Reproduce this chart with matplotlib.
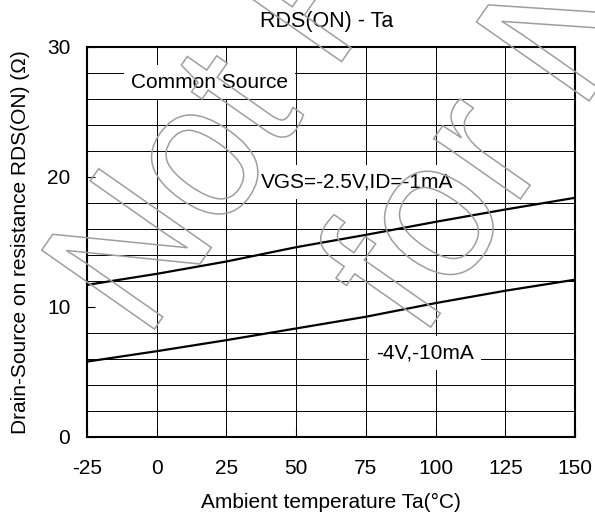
import matplotlib
matplotlib.use("Agg")
import matplotlib.pyplot as plt
from matplotlib.textpath import TextPath
from matplotlib.patches import PathPatch
from matplotlib.font_manager import FontProperties
from matplotlib.transforms import Affine2D, IdentityTransform
import numpy as np

plt.rcParams["font.family"] = ["Liberation Sans", "DejaVu Sans"]
plt.rcParams["axes.unicode_minus"] = False

# data
ta = [-25, 0, 25, 50, 75, 100, 125, 150]
rds_2v5 = [11.7, 12.55, 13.5, 14.6, 15.55, 16.55, 17.5, 18.4]
rds_4v = [5.8, 6.6, 7.45, 8.35, 9.25, 10.3, 11.25, 12.1]

x_ticks = [-25, 0, 25, 50, 75, 100, 125, 150]
y_ticks = [0, 10, 20, 30]

W, H = 595, 516
fig = plt.figure(figsize=(W / 100, H / 100), dpi=100)
ax = fig.add_axes([87 / W, (H - 437) / H, 488 / W, 390 / H])

ax.plot(ta, rds_2v5, color="black", lw=1.6, zorder=3)
ax.plot(ta, rds_4v, color="black", lw=1.6, zorder=3)

ax.set_xlim(-25, 150)
ax.set_ylim(0, 30)
ax.set_xticks(x_ticks)
ax.set_yticks(y_ticks)
ax.set_yticks(np.arange(0, 31, 2), minor=True)
ax.grid(True, which="major", axis="x", color="black", lw=0.7)
ax.grid(True, which="minor", axis="y", color="black", lw=0.7)
ax.set_axisbelow(True)
ax.tick_params(which="major", direction="in", length=6, width=0.8,
               labelsize=15, color="black")
ax.tick_params(axis="x", pad=16)
ax.tick_params(axis="y", pad=12)
ax.tick_params(which="minor", length=0)
for s in ax.spines.values():
    s.set_linewidth(1.5)
    s.set_zorder(4)

box = dict(boxstyle="square,pad=0.35", fc="white", ec="none")
ax.text(18.9, 27.3, "Common Source", fontsize=15, ha="center", va="center",
        bbox=box, zorder=2.5)
ax.text(71.8, 19.6, "VGS=-2.5V,ID=-1mA", fontsize=15, ha="center", va="center",
        bbox=box, zorder=2.5)
ax.text(96.2, 6.45, "-4V,-10mA", fontsize=15, ha="center", va="center",
        bbox=box, zorder=2.5)

ax.set_xlabel("Ambient temperature Ta(°C)", fontsize=15, va="center")
ax.xaxis.set_label_coords(0.5, (437 - 502) / 390)
ax.set_ylabel("Drain-Source on resistance RDS(ON) (Ω)", fontsize=15, va="center")
ax.yaxis.set_label_coords((21 - 87) / 488, 0.5)

fig.text(327 / W, 1 - 22 / H, "RDS(ON) - Ta", fontsize=15.5, ha="center", va="center")

# outlined watermark
fp = FontProperties(family="Liberation Sans")


def add_watermark(text, x_px, y_px, em_x=180, em_y=200, angle=55):
    path = TextPath((0, 0), text, size=1, prop=fp)
    tr = Affine2D().scale(em_x, em_y).rotate_deg(angle).translate(x_px, H - y_px)
    patch = PathPatch(tr.transform_path(path), facecolor="none",
                      edgecolor="#9e9e9e", lw=1.1,
                      transform=IdentityTransform(), zorder=10)
    fig.add_artist(patch)


add_watermark("Not Recommended", 146, 341, em_x=178)
add_watermark("for New Design", 421, 341, em_x=192)

fig.savefig("out.png", dpi=100)
